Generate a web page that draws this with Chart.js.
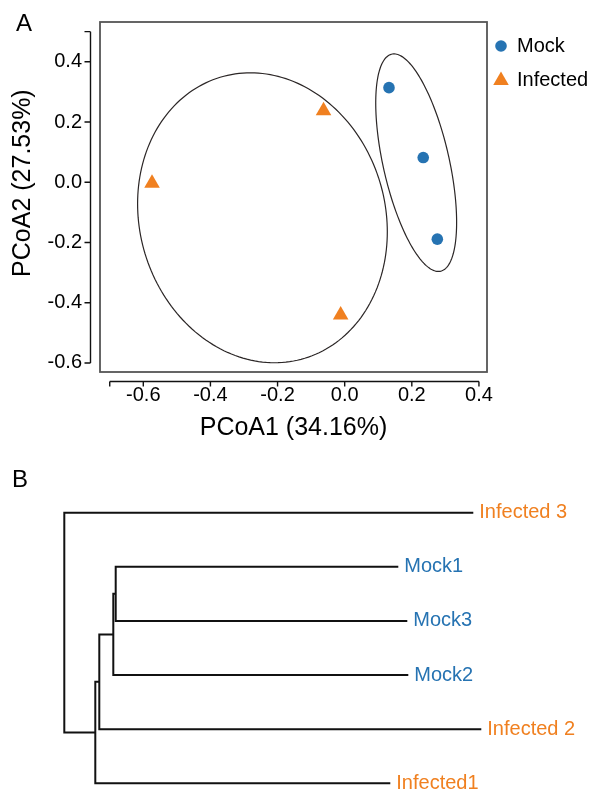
<!DOCTYPE html>
<html lang="en">
<head>
    <meta charset="UTF-8">
    <title>PCoA and clustering</title>
    <style>
        body {
            margin: 0;
            background: #ffffff;
            font-family: "Liberation Sans", Arial, sans-serif;
        }
        .wrap {
            position: relative;
            width: 590px;
            height: 791px;
        }
        canvas {
            position: absolute;
            left: 0;
        }
        #pcoa { top: 0; }
        #tree { top: 450px; }
        .panel {
            position: absolute;
            font-size: 24px;
            line-height: 24px;
            color: #000;
        }
    </style>
</head>
<body>
    <div class="wrap">
        <canvas id="pcoa" width="590" height="450"></canvas>
        <canvas id="tree" width="590" height="341"></canvas>
        <div class="panel" style="left:16px; top:11px;">A</div>
        <div class="panel" style="left:12px; top:467px;">B</div>
    </div>

    <script src="https://cdn.jsdelivr.net/npm/chart.js"></script>
    <script>
        // ---- panel A data ----
        const groups = ['Mock', 'Infected'];
        const groupColors = ['#2673b2', '#f08020'];
        const mockX = [0.132, 0.234, 0.276];
        const mockY = [0.314, 0.082, -0.189];
        const infectedX = [-0.574, -0.063, -0.012];
        const infectedY = [-0.003, 0.237, -0.441];
        const xTickLabels = [-0.6, -0.4, -0.2, 0.0, 0.2, 0.4];
        const yTickLabels = [-0.6, -0.4, -0.2, 0.0, 0.2, 0.4];
        const xAxisLine = [-0.7, 0.4];
        const yAxisLine = [-0.6, 0.5];

        // ellipse: x = cx + rx cos t, y = cy + ry sin t + skew cos t
        const ellipseCx = [0.213, -0.245];
        const ellipseCy = [0.065, -0.118];
        const ellipseRx = [0.1205, 0.372];
        const ellipseRy = [0.302, 0.479];
        const ellipseSkew = [-0.198, -0.0465];

        // ---- panel B data (leaves top to bottom) ----
        const leafNames = ['Infected 3', 'Mock1', 'Mock3', 'Mock2', 'Infected 2', 'Infected1'];
        const leafGroup = [1, 0, 0, 0, 1, 1];
        const leafHeight = [0.409, 0.334, 0.343, 0.344, 0.417, 0.326];
        // merges, hclust style: negative = leaf (1-based), positive = earlier merge
        const mergeA = [-2, 1, 2, 3, -1];
        const mergeB = [-3, -4, -5, -6, 4];
        const mergeHeight = [0.0514, 0.049, 0.035, 0.031, 0];

        Chart.defaults.font.family = '"Liberation Sans", Arial, sans-serif';
        Chart.defaults.color = '#000';

        const fontFam = Chart.defaults.font.family;

        const pcoaDecor = {
            id: 'pcoaDecor',
            beforeDatasetsDraw(chart) {
                const {ctx, chartArea, scales: {x, y}} = chart;
                ctx.save();
                ctx.beginPath();
                ctx.rect(chartArea.left, chartArea.top, chartArea.right - chartArea.left, chartArea.bottom - chartArea.top);
                ctx.clip();
                ctx.strokeStyle = '#2b2626';
                ctx.lineWidth = 1.2;
                for (let e = 0; e < ellipseCx.length; e++) {
                    ctx.beginPath();
                    for (let k = 0; k <= 200; k++) {
                        const t = k / 200 * Math.PI * 2;
                        const vx = ellipseCx[e] + ellipseRx[e] * Math.cos(t);
                        const vy = ellipseCy[e] + ellipseRy[e] * Math.sin(t) + ellipseSkew[e] * Math.cos(t);
                        const px = x.getPixelForValue(vx);
                        const py = y.getPixelForValue(vy);
                        if (k === 0) ctx.moveTo(px, py); else ctx.lineTo(px, py);
                    }
                    ctx.closePath();
                    ctx.stroke();
                }
                ctx.restore();
            },
            afterDraw(chart) {
                const {ctx, chartArea, scales: {x, y}} = chart;
                ctx.save();
                // plot box
                ctx.strokeStyle = '#555';
                ctx.lineWidth = 1.8;
                ctx.strokeRect(chartArea.left, chartArea.top, chartArea.right - chartArea.left, chartArea.bottom - chartArea.top);

                // offset axis lines
                ctx.strokeStyle = '#111';
                ctx.lineWidth = 1.4;
                const ax = chartArea.left - 9.5;
                const ay = chartArea.bottom + 9.5;
                ctx.beginPath();
                ctx.moveTo(ax, y.getPixelForValue(yAxisLine[0]));
                ctx.lineTo(ax, y.getPixelForValue(yAxisLine[1]));
                ctx.moveTo(x.getPixelForValue(xAxisLine[0]), ay);
                ctx.lineTo(x.getPixelForValue(xAxisLine[1]), ay);
                yTickLabels.concat([yAxisLine[1]]).forEach(v => {
                    const py = y.getPixelForValue(v);
                    ctx.moveTo(ax, py);
                    ctx.lineTo(ax - 6, py);
                });
                xTickLabels.concat([xAxisLine[0]]).forEach(v => {
                    const px = x.getPixelForValue(v);
                    ctx.moveTo(px, ay);
                    ctx.lineTo(px, ay + 5);
                });
                ctx.stroke();

                // legend
                const lx = chartArea.right + 14;
                const legendY = [46, 80];
                chart.data.datasets.forEach((ds, i) => {
                    ctx.fillStyle = ds.backgroundColor;
                    const r = ds.pointRadius;
                    const cy = i === 0 ? legendY[i] : legendY[i] + 0.5;
                    Chart.helpers.drawPoint(ctx, {pointStyle: ds.pointStyle, radius: r, rotation: 0, borderWidth: 0}, lx, cy);
                    ctx.fillStyle = '#000';
                    ctx.font = '20px ' + fontFam;
                    ctx.textAlign = 'left';
                    ctx.textBaseline = 'middle';
                    ctx.fillText(ds.label, lx + 16, legendY[i]);
                });
                ctx.restore();
            }
        };

        new Chart(document.getElementById('pcoa').getContext('2d'), {
            type: 'scatter',
            data: {
                datasets: [{
                    label: groups[0],
                    data: mockX.map((v, i) => ({x: v, y: mockY[i]})),
                    backgroundColor: groupColors[0],
                    borderWidth: 0,
                    pointStyle: 'circle',
                    pointRadius: 5.8
                }, {
                    label: groups[1],
                    data: infectedX.map((v, i) => ({x: v, y: infectedY[i]})),
                    backgroundColor: groupColors[1],
                    borderWidth: 0,
                    pointStyle: 'triangle',
                    pointRadius: 9
                }]
            },
            options: {
                responsive: false,
                animation: false,
                devicePixelRatio: 1,
                layout: { padding: {top: 22, right: 103, left: 0, bottom: 0} },
                plugins: {
                    legend: { display: false },
                    tooltip: { enabled: false }
                },
                scales: {
                    x: {
                        min: -0.729,
                        max: 0.424,
                        grid: { display: false, drawTicks: false },
                        border: { display: false },
                        afterBuildTicks: s => { s.ticks = xTickLabels.map(v => ({value: v})); },
                        afterFit: s => {
                            s.height = 78;
                            s.paddingLeft = 0;
                            s.paddingRight = 0;
                        },
                        ticks: {
                            autoSkip: false,
                            maxRotation: 0,
                            padding: 11.5,
                            font: {size: 20},
                            callback: v => Number(v).toFixed(1)
                        },
                        title: {
                            display: true,
                            text: 'PCoA1 (34.16%)',
                            font: {size: 25},
                            padding: {top: 0, bottom: 6.5}
                        }
                    },
                    y: {
                        min: -0.63,
                        max: 0.532,
                        grid: { display: false, drawTicks: false },
                        border: { display: false },
                        afterBuildTicks: s => { s.ticks = yTickLabels.map(v => ({value: v})); },
                        afterFit: s => {
                            s.width = 100;
                            s.paddingTop = 0;
                            s.paddingBottom = 0;
                        },
                        ticks: {
                            autoSkip: false,
                            padding: 18,
                            font: {size: 20},
                            callback: v => Number(v).toFixed(1)
                        },
                        title: {
                            display: true,
                            text: '    PCoA2 (27.53%)',
                            font: {size: 25},
                            padding: {top: 8.5, bottom: 0}
                        }
                    }
                }
            },
            plugins: [pcoaDecor]
        });

        // ---- panel B: dendrogram ----
        function itemY(id) {
            if (id < 0) return -id - 1;
            return (itemY(mergeA[id - 1]) + itemY(mergeB[id - 1])) / 2;
        }
        function itemX(id) {
            return id < 0 ? leafHeight[-id - 1] : mergeHeight[id - 1];
        }

        const treeSets = mergeHeight.map((h, m) => {
            const a = mergeA[m], b = mergeB[m];
            return {
                data: [
                    {x: itemX(a), y: itemY(a)},
                    {x: h, y: itemY(a)},
                    {x: h, y: itemY(b)},
                    {x: itemX(b), y: itemY(b)}
                ],
                showLine: true,
                borderColor: '#111',
                borderWidth: 2,
                pointRadius: 0,
                borderCapStyle: 'butt',
                borderJoinStyle: 'miter',
                tension: 0
            };
        });

        const leafText = {
            id: 'leafText',
            afterDatasetsDraw(chart) {
                const {ctx, scales: {x, y}} = chart;
                ctx.save();
                ctx.font = '20px ' + fontFam;
                ctx.textAlign = 'left';
                ctx.textBaseline = 'middle';
                leafNames.forEach((name, i) => {
                    ctx.fillStyle = groupColors[leafGroup[i]];
                    ctx.fillText(name, x.getPixelForValue(leafHeight[i]) + 6, y.getPixelForValue(i));
                });
                ctx.restore();
            }
        };

        new Chart(document.getElementById('tree').getContext('2d'), {
            type: 'scatter',
            data: { datasets: treeSets },
            options: {
                responsive: false,
                animation: false,
                devicePixelRatio: 1,
                layout: { padding: 0 },
                plugins: {
                    legend: { display: false },
                    tooltip: { enabled: false }
                },
                scales: {
                    x: { display: false, min: -0.0643, max: 0.5257 },
                    y: { display: false, reverse: true, min: -1.158, max: 5.142 }
                }
            },
            plugins: [leafText]
        });
    </script>
</body>
</html>
